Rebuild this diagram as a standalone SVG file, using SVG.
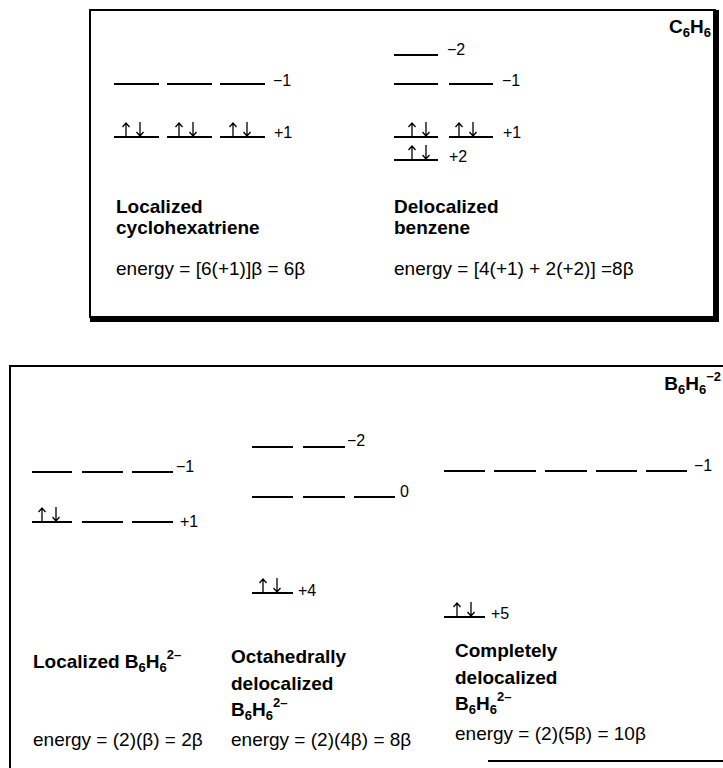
<svg xmlns="http://www.w3.org/2000/svg" xmlns:xlink="http://www.w3.org/1999/xlink" width="723" height="768" viewBox="0 0 723 768">
<style>
  text { font-family: "Liberation Sans", Arial, sans-serif; fill: #000; }
  .b { font-weight: bold; font-size: 19px; }
  .r { font-size: 19px; }
  .lv { font-size: 16px; }
  .sub { font-size: 13px; }
  .lvl { stroke: #000; stroke-width: 2; fill: none; }
  .spin { stroke: #000; stroke-width: 1.3; fill: none; }
  .frame { stroke: #000; fill: none; }
</style>
<defs>
  <g id="pair" class="spin">
    <path d="M0,0 V-14 M-3.5,-10 L0,-14 L3.5,-10"/>
    <path d="M14,-15 V-1 M10.5,-5 L14,-1 L17.5,-5"/>
  </g>
</defs>

<!-- Top box: C6H6 -->
<g id="box-c6h6">
  <path class="frame" stroke-width="2" d="M90,318 V10 H716"/>
  <path class="frame" stroke-width="6" d="M716,10 V319 H90"/>
  <text class="b" x="711" y="33" text-anchor="end" font-size="17">C<tspan class="sub" dy="4">6</tspan><tspan dy="-4">H</tspan><tspan class="sub" dy="4">6</tspan></text>
</g>

<g id="localized-cyclohexatriene">
  <path class="lvl" d="M114,84 H159 M167,84 H212 M220,84 H265"/>
  <text class="lv" x="273" y="86">−1</text>
  <path class="lvl" d="M114,137 H159 M167,137 H212 M220,137 H265"/>
  <use xlink:href="#pair" x="126" y="137"/>
  <use xlink:href="#pair" x="179" y="137"/>
  <use xlink:href="#pair" x="233" y="137"/>
  <text class="lv" x="274" y="138">+1</text>
  <text class="b" x="116" y="213">Localized</text>
  <text class="b" x="116" y="234">cyclohexatriene</text>
  <text class="r" x="116" y="275">energy = [6(+1)]β = 6β</text>
</g>

<g id="delocalized-benzene">
  <path class="lvl" d="M394,55 H438"/>
  <text class="lv" x="447" y="55">−2</text>
  <path class="lvl" d="M394,84 H438 M449,84 H493"/>
  <text class="lv" x="502" y="86">−1</text>
  <path class="lvl" d="M394,137 H438 M449,137 H493"/>
  <use xlink:href="#pair" x="412" y="137"/>
  <use xlink:href="#pair" x="459" y="137"/>
  <text class="lv" x="503" y="138">+1</text>
  <path class="lvl" d="M394,160 H438"/>
  <use xlink:href="#pair" x="412" y="160"/>
  <text class="lv" x="449" y="162">+2</text>
  <text class="b" x="394" y="213">Delocalized</text>
  <text class="b" x="394" y="234">benzene</text>
  <text class="r" x="394" y="275">energy = [4(+1) + 2(+2)] =8β</text>
</g>

<!-- Bottom box: B6H6 2- -->
<g id="box-b6h6">
  <path class="frame" stroke-width="2" d="M10,768 V366 H723"/>
  <path class="frame" stroke-width="2" d="M488,761 H723"/>
  <text class="b" x="721" y="390" text-anchor="end">B<tspan class="sub" dy="4">6</tspan><tspan dy="-4">H</tspan><tspan class="sub" dy="4">6</tspan><tspan class="sub" dy="-13">−2</tspan></text>
</g>

<g id="localized-b6h6">
  <path class="lvl" d="M32,472 H72 M82,472 H123 M132,472 H173"/>
  <text class="lv" x="176" y="472">−1</text>
  <path class="lvl" d="M32,522 H72 M82,522 H123 M132,522 H173"/>
  <use xlink:href="#pair" x="42" y="522"/>
  <text class="lv" x="180" y="527">+1</text>
  <text class="b" x="33" y="668">Localized B<tspan class="sub" dy="4">6</tspan><tspan dy="-4">H</tspan><tspan class="sub" dy="4">6</tspan><tspan class="sub" dy="-13">2–</tspan></text>
  <text class="r" x="33" y="746">energy = (2)(β) = 2β</text>
</g>

<g id="octahedral-b6h6">
  <path class="lvl" d="M252,447 H293 M303,447 H345"/>
  <text class="lv" x="347" y="446">−2</text>
  <path class="lvl" d="M252,497 H293 M303,497 H345 M354,497 H395"/>
  <text class="lv" x="400" y="497">0</text>
  <path class="lvl" d="M252,593 H293"/>
  <use xlink:href="#pair" x="263" y="593"/>
  <text class="lv" x="298" y="596">+4</text>
  <text class="b" x="231" y="663">Octahedrally</text>
  <text class="b" x="231" y="690">delocalized</text>
  <text class="b" x="231" y="716">B<tspan class="sub" dy="4">6</tspan><tspan dy="-4">H</tspan><tspan class="sub" dy="4">6</tspan><tspan class="sub" dy="-13">2–</tspan></text>
  <text class="r" x="231" y="746">energy = (2)(4β) = 8β</text>
</g>

<g id="complete-b6h6">
  <path class="lvl" d="M444,471 H485 M494,471 H536 M545,471 H587 M596,471 H637 M646,471 H687"/>
  <text class="lv" x="694" y="471">−1</text>
  <path class="lvl" d="M444,617 H485"/>
  <use xlink:href="#pair" x="457" y="617"/>
  <text class="lv" x="491" y="619">+5</text>
  <text class="b" x="455" y="657">Completely</text>
  <text class="b" x="455" y="684">delocalized</text>
  <text class="b" x="455" y="710">B<tspan class="sub" dy="4">6</tspan><tspan dy="-4">H</tspan><tspan class="sub" dy="4">6</tspan><tspan class="sub" dy="-13">2–</tspan></text>
  <text class="r" x="455" y="740">energy = (2)(5β) = 10β</text>
</g>

<g id="connectors"></g>
</svg>
